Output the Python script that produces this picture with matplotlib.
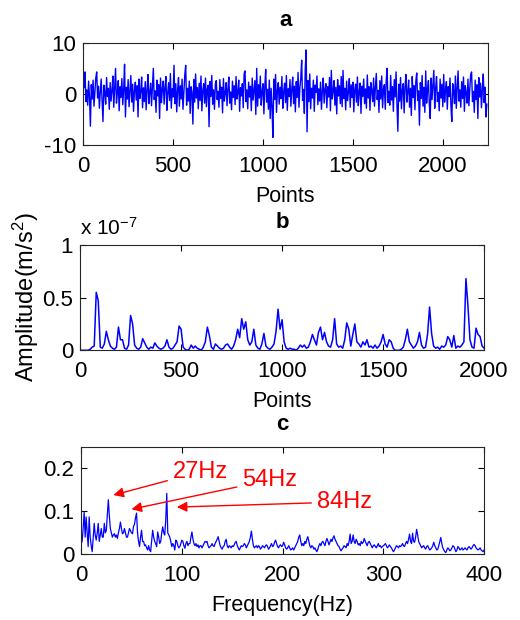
import numpy as np
import matplotlib
matplotlib.use('Agg')
import matplotlib.pyplot as plt

plt.rcParams['font.family'] = ['Liberation Sans', 'DejaVu Sans']
plt.rcParams['mathtext.fontset'] = 'custom'
plt.rcParams['mathtext.rm'] = 'Liberation Sans'
plt.rcParams['mathtext.it'] = 'Liberation Sans:italic'
plt.rcParams['axes.unicode_minus'] = False

# panel a: raw signal, one value every 5 points
step_a = 5
signal_a = [
    4.0, 1.2, 4.3, -1.5, 0.8, -2.2, 2.5, -0.6, -6.3, 1.8, -1.0, 2.7, -2.4, 0.5, 3.1,
    4.3, -0.8, 1.5, -2.8, 0.3, 2.9, -1.2, -5.4, 1.7, 0.4, -2.0, 3.2, -0.5, 1.1, -3.0,
    2.2, -1.4, 0.6, 3.5, -2.6, 1.0, 5.0, -1.8, 0.2, 2.6, -3.3, 1.4, -0.7, 3.0, -2.1,
    0.9, 5.8, -4.5, 1.3, -1.0, 2.8, -2.5, 0.4, 3.6, -1.6, 1.9, -3.4, 0.7, 2.3, -1.2,
    1.6, -4.5, 2.9, -0.9, 0.5, 3.3, -2.7, 1.2, -1.5, 2.4, -3.1, 0.8, 3.8, -1.9, 0.3,
    2.1, -2.3, 1.5, 5.0, -1.1, 0.6, -3.6, 2.7, -0.4, 1.8, -4.8, 3.1, -1.7, 0.9, 2.5,
    -2.0, 1.3, 3.4, -3.2, 0.2, 2.2, -1.3, 4.0, -2.8, 1.0, -0.6, 5.6, -1.9, 2.0, -3.5,
    0.7, 3.2, -2.4, 1.6, -1.0, 2.9, -3.0, 0.4, 3.7, 5.6, -2.2, 1.1, -1.4, 2.5, -3.8,
    1.4, 0.3, -5.9, 2.8, -1.6, 3.9, -0.8, 1.2, -2.9, 2.1, -1.3, 3.5, -3.3, 0.6, 2.0,
    -1.8, 3.1, -2.5, 0.9, 1.7, -6.4, 2.4, -0.5, 3.6, -2.0, 0.8, -3.0, 1.9, 2.6, -1.1,
    0.5, -2.6, 2.8, -0.9, 1.3, -3.7, 3.0, -1.4, 0.2, 2.2, -2.3, 1.0, 3.3, -1.8, 0.4,
    -3.1, 2.5, -0.7, 1.6, -2.1, 3.4, -1.0, 0.3, 2.7, -3.4, 1.2, -0.4, 2.0, -2.7, 3.9,
    4.5, -1.5, 0.8, -2.9, 2.3, -0.6, 1.5, -3.3, 3.1, -1.2, 0.7, 2.6, -4.0, 5.0, -2.4,
    1.8, -0.8, 3.5, -2.2, 0.5, 2.0, -3.9, 1.4, 4.8, -1.6, 0.9, -3.0, 2.7, -4.8, 1.1,
    -2.5, -8.5, 2.9, -1.1, 3.8, -3.6, 0.6, 2.2, -2.0, 1.3, -0.9, 3.4, -2.8, 0.4, 2.1,
    -1.7, 3.6, -3.2, 1.0, -0.5, 2.8, -2.4, 0.8, 3.3, -1.9, 1.5, -3.5, 2.4, -0.7, 4.2,
    -2.6, 1.2, 3.0, 6.6, -1.3, 0.9, -3.8, 4.9, 8.6, -7.4, 2.6, -1.5, 3.9, -2.9, 1.1,
    -0.8, 2.7, -3.4, 1.7, 0.3, 3.5, -2.1, 1.0, -1.4, 2.3, -3.0, 0.6, 3.1, -1.8, 0.9,
    2.0, -2.7, 1.4, -0.6, 3.2, -3.3, 4.6, -1.0, 0.5, 2.6, -2.2, 1.3, -3.9, 2.8, -0.4,
    1.6, -1.9, 3.4, -2.5, 4.6, -0.9, 1.1, -3.1, 2.5, -1.3, 0.3, 3.0, -2.6, 1.8, -0.7,
    2.3, -3.5, 0.8, 1.9, -1.6, 3.3, -2.3, 0.4, 2.1, -3.8, 1.5, -0.5, 2.9, -1.9, 1.0,
    -2.8, 3.7, -0.8, 1.4, -3.2, 2.2, 0.6, -1.5, 3.1, -2.4, 1.2, 4.0, -1.1, 0.7, -3.6,
    2.6, -1.0, 3.5, -2.7, 0.9, 1.8, -3.0, 2.4, 5.0, -1.7, 0.5, -2.2, 3.6, -1.2, 1.4,
    -3.4, 2.8, -0.6, 4.3, -2.1, -7.3, 1.9, -1.4, 3.2, -2.9, 0.8, 2.0, -3.7, 1.5, 3.8,
    -1.6, 0.4, 2.7, -2.6, 1.1, -4.2, 3.4, -0.7, 1.6, -3.1, 2.5, 4.1, -1.3, 0.6, -6.1,
    2.2, -0.9, 3.6, -2.4, 1.3, -3.6, 4.5, -1.8, 0.9, 2.6, -2.0, -4.8, 3.1, -1.1, 1.7,
    4.6, -2.8, 1.0, 3.4, -1.5, 0.3, -3.3, 2.9, -0.8, 1.9, -2.5, 3.8, -1.6, 0.7, 2.4,
    -3.0, 1.4, -0.5, 3.1, -2.2, -5.4, 2.0, 0.6, -1.9, 3.5, -2.8, 1.2, 4.5, -1.4, 0.8,
    -2.6, 2.4, -0.9, 3.3, -3.4, 1.6, 0.2, -1.8, 2.9, -2.3, 1.0, 3.7, 4.3, -1.5, 0.5,
    -3.6, 2.7, -1.1, 1.8, -4.8, 3.2, -0.6, 2.1, -2.7, 0.9, 3.9, -1.7, 1.3, -4.5, -2.0,
]

# panel b: amplitude (x 1e-7), one value every 10 points
step_b = 10
amp_b = [
    0, 0, 0, 0, 0, 0.01, 0.03, 0.04, 0.55, 0.47,
    0.03, 0.02, 0.06, 0.18, 0.1, 0.04, 0.02, 0.01, 0.03, 0.22,
    0.1, 0.1, 0.02, 0.01, 0.05, 0.33, 0.25, 0.05, 0.02, 0.01,
    0.03, 0.11, 0.07, 0.03, 0.01, 0.03, 0.02, 0.07, 0.04, 0.02,
    0.01, 0.02, 0.04, 0.1, 0.03, 0.01, 0.02, 0.05, 0.08, 0.23,
    0.2, 0.03, 0.01, 0.0, 0.01, 0.05, 0.02, 0.04, 0.02, 0.01,
    0.0, 0.03, 0.08, 0.22, 0.14, 0.03, 0.01, 0.06, 0.04, 0.02,
    0.01, 0.02, 0.05, 0.06, 0.03, 0.01, 0.04, 0.1, 0.2, 0.12,
    0.3, 0.2, 0.27, 0.1, 0.05, 0.08, 0.2, 0.05, 0.02, 0.01,
    0.06, 0.16, 0.04, 0.02, 0.01, 0.03, 0.06, 0.18, 0.39, 0.2,
    0.29, 0.08, 0.02, 0.01, 0.02, 0.01, 0.01, 0.0, 0.02, 0.05,
    0.03, 0.05, 0.02, 0.03, 0.08, 0.15, 0.1, 0.05, 0.17, 0.22,
    0.1, 0.17, 0.08, 0.04, 0.03, 0.1, 0.3, 0.06, 0.03, 0.04,
    0.02, 0.1, 0.26, 0.2, 0.04, 0.15, 0.25, 0.08, 0.06, 0.03,
    0.08, 0.05, 0.1, 0.03, 0.04, 0.02, 0.05, 0.02, 0.04, 0.08,
    0.15, 0.06, 0.03, 0.1, 0.08, 0.02, 0.0, 0.0, 0.0, 0.01,
    0.03, 0.1, 0.2, 0.08, 0.05, 0.02, 0.04, 0.08, 0.17, 0.05,
    0.02, 0.03, 0.15, 0.41, 0.16, 0.04, 0.02, 0.03, 0.01, 0.04,
    0.03, 0.05, 0.13, 0.1, 0.03, 0.14, 0.02, 0.04, 0.03, 0.05,
    0.08, 0.68, 0.42, 0.1, 0.03, 0.02, 0.21, 0.15, 0.13, 0.04,
    0.02,
]

# panel c: spectrum, 1 Hz resolution, 0..400 Hz
spec_c = [
    0.025, 0.03, 0.06, 0.098, 0.04, 0.087, 0.05, 0.018, 0.087, 0.04,
    0.02, 0.006, 0.04, 0.072, 0.045, 0.033, 0.05, 0.072, 0.03, 0.045,
    0.06, 0.04, 0.04, 0.072, 0.05, 0.055, 0.09, 0.127, 0.09, 0.06,
    0.05, 0.04, 0.045, 0.048, 0.04, 0.045, 0.037, 0.05, 0.06, 0.075,
    0.06, 0.048, 0.05, 0.06, 0.05, 0.04, 0.04, 0.05, 0.06, 0.055,
    0.05, 0.048, 0.065, 0.07, 0.085, 0.096, 0.05, 0.03, 0.018, 0.04,
    0.056, 0.03, 0.03, 0.02, 0.022, 0.015, 0.01, 0.02, 0.01, 0.006,
    0.03, 0.056, 0.04, 0.03, 0.025, 0.018, 0.052, 0.04, 0.025, 0.03,
    0.05, 0.064, 0.05, 0.045, 0.08, 0.142, 0.05, 0.045, 0.04, 0.03,
    0.018, 0.025, 0.02, 0.01, 0.033, 0.03, 0.02, 0.015, 0.018, 0.025,
    0.033, 0.03, 0.02, 0.014, 0.025, 0.03, 0.02, 0.025, 0.025, 0.04,
    0.052, 0.035, 0.025, 0.02, 0.025, 0.018, 0.022, 0.015, 0.02, 0.02,
    0.015, 0.02, 0.025, 0.03, 0.028, 0.03, 0.02, 0.015, 0.018, 0.02,
    0.025, 0.02, 0.018, 0.025, 0.03, 0.035, 0.041, 0.03, 0.02, 0.015,
    0.012, 0.018, 0.02, 0.03, 0.035, 0.02, 0.015, 0.02, 0.018, 0.015,
    0.02, 0.018, 0.022, 0.028, 0.03, 0.02, 0.015, 0.01, 0.015, 0.02,
    0.018, 0.02, 0.025, 0.022, 0.015, 0.02, 0.025, 0.03, 0.04, 0.054,
    0.035, 0.02, 0.015, 0.018, 0.02, 0.015, 0.02, 0.018, 0.012, 0.015,
    0.02, 0.018, 0.015, 0.02, 0.022, 0.018, 0.012, 0.015, 0.02, 0.025,
    0.018, 0.02, 0.028, 0.033, 0.025, 0.018, 0.015, 0.02, 0.022, 0.018,
    0.02, 0.028, 0.022, 0.015, 0.012, 0.015, 0.02, 0.015, 0.01, 0.012,
    0.015, 0.01, 0.015, 0.02, 0.025, 0.03, 0.04, 0.045, 0.03, 0.02,
    0.025, 0.02, 0.03, 0.025, 0.035, 0.041, 0.03, 0.02, 0.015, 0.02,
    0.018, 0.012, 0.015, 0.01, 0.006, 0.012, 0.02, 0.025, 0.02, 0.028,
    0.03, 0.025, 0.02, 0.03, 0.037, 0.03, 0.022, 0.028, 0.035, 0.03,
    0.038, 0.043, 0.035, 0.03, 0.025, 0.02, 0.018, 0.012, 0.008, 0.012,
    0.015, 0.02, 0.018, 0.015, 0.025, 0.02, 0.03, 0.047, 0.025, 0.03,
    0.045, 0.03, 0.025, 0.035, 0.03, 0.022, 0.025, 0.02, 0.03, 0.025,
    0.028, 0.037, 0.03, 0.025, 0.02, 0.028, 0.03, 0.025, 0.02, 0.015,
    0.02, 0.022, 0.018, 0.015, 0.02, 0.025, 0.018, 0.02, 0.015, 0.018,
    0.02, 0.022, 0.025, 0.02, 0.015, 0.018, 0.022, 0.018, 0.015, 0.01,
    0.006, 0.01, 0.015, 0.02, 0.018, 0.015, 0.02, 0.018, 0.02, 0.025,
    0.02, 0.018, 0.025, 0.03, 0.025, 0.035, 0.047, 0.03, 0.025, 0.049,
    0.03, 0.028, 0.04, 0.058, 0.045, 0.03, 0.025, 0.02, 0.015, 0.018,
    0.02, 0.015, 0.012, 0.018, 0.02, 0.015, 0.01, 0.012, 0.015, 0.02,
    0.028, 0.02, 0.015, 0.01, 0.012, 0.02, 0.03, 0.039, 0.025, 0.015,
    0.01, 0.006, 0.004, 0.01, 0.015, 0.012, 0.008, 0.01, 0.015, 0.02,
    0.018, 0.012, 0.006, 0.01, 0.018, 0.015, 0.01, 0.012, 0.015, 0.01,
    0.012, 0.015, 0.012, 0.01, 0.015, 0.018, 0.015, 0.012, 0.015, 0.02,
    0.023, 0.02, 0.015, 0.012, 0.01, 0.012, 0.015, 0.01, 0.008, 0.006,
    0.01,
]

# peak labels: text, peak (Hz, amp), text anchor (Hz, amp)
peak_labels = ['27Hz', '54Hz', '84Hz']
peak_xy = [(32, 0.138), (50, 0.105), (95, 0.11)]
label_xy = [(91, 0.192), (160, 0.173), (234, 0.122)]

x_a = np.arange(len(signal_a)) * step_a
x_b = np.arange(len(amp_b)) * step_b
x_c = np.arange(len(spec_c))

fig = plt.figure(figsize=(5.2, 6.2), dpi=100)
ax_a = fig.add_axes([0.160, 0.766, 0.778, 0.165])
ax_b = fig.add_axes([0.154, 0.435, 0.777, 0.170])
ax_c = fig.add_axes([0.156, 0.106, 0.775, 0.173])

blue = (0, 0, 1)
ax_a.plot(x_a, signal_a, color=blue, lw=1.0)
ax_b.plot(x_b, amp_b, color=blue, lw=1.1)
ax_c.plot(x_c, spec_c, color=blue, lw=0.9)

ax_a.set_xlim(0, 2250)
ax_a.set_ylim(-10, 10)
ax_a.set_xticks([0, 500, 1000, 1500, 2000])
ax_a.set_yticks([-10, 0, 10])

ax_b.set_xlim(0, 2000)
ax_b.set_ylim(0, 1)
ax_b.set_xticks([0, 500, 1000, 1500, 2000])
ax_b.set_yticks([0, 0.5, 1])
ax_b.set_yticklabels(['0', '0.5', '1'])

ax_c.set_xlim(0, 400)
ax_c.set_ylim(0, 0.25)
ax_c.set_xticks([0, 100, 200, 300, 400])
ax_c.set_yticks([0, 0.1, 0.2])
ax_c.set_yticklabels(['0', '0.1', '0.2'])

for ax, ttl, xl in [(ax_a, 'a', 'Points'), (ax_b, 'b', 'Points'),
                    (ax_c, 'c', 'Frequency(Hz)')]:
    ax.set_title(ttl, fontsize=16, fontweight='bold', pad=12)
    ax.set_xlabel(xl, fontsize=15.5, labelpad=6)
    ax.tick_params(direction='in', top=True, right=True, length=4,
                   width=0.8, labelsize=16)
    ax.tick_params(axis='x', pad=8)
    ax.tick_params(axis='y', pad=5)
    for s in ax.spines.values():
        s.set_linewidth(0.8)
        s.set_color('#262626')

ax_b.set_ylabel('Amplitude(m/s$^2$)', fontsize=17, labelpad=1)
ax_b.text(0.0, 1.06, 'x 10$^{-7}$', transform=ax_b.transAxes,
          fontsize=15, ha='left', va='bottom')

for lab, pxy, txy in zip(peak_labels, peak_xy, label_xy):
    ax_c.annotate(lab, xy=pxy, xytext=txy, color='red', fontsize=17,
                  ha='left', va='center',
                  arrowprops=dict(arrowstyle='-|>', color='red', lw=1.0,
                                  mutation_scale=15, shrinkA=2, shrinkB=0))

fig.savefig('out.png', dpi=100)
